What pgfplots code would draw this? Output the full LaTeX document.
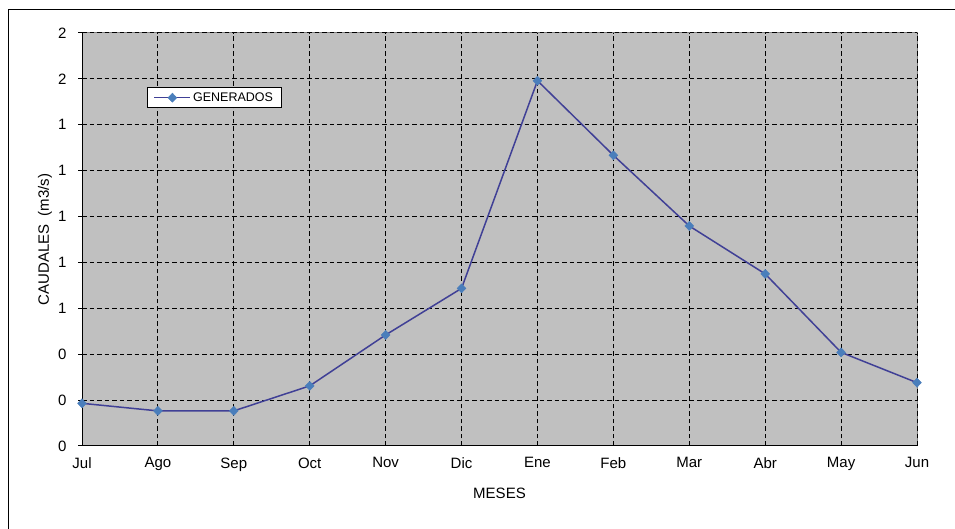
\documentclass[border=0pt]{standalone}
\usepackage{fontspec}
\setmainfont{Liberation Sans}
\usepackage{pgfplots}
\pgfplotsset{compat=1.18}

\definecolor{plotgray}{RGB}{192,192,192}
\definecolor{linenavy}{RGB}{64,64,150}
\definecolor{markblue}{RGB}{74,126,187}

\begin{document}
\begin{tikzpicture}[x=1pt,y=1pt]
  \useasboundingbox (0,0) rectangle (955,529);
  % outer chart frame
  \draw[black, line width=1pt] (8,-10) -- (8,519) -- (970,519);
  \begin{axis}[
    at={(82pt,83pt)}, anchor=south west,
    scale only axis,
    width=835pt, height=413pt,
    xmin=0, xmax=11, ymin=0, ymax=1.8,
    xtick={0,...,11},
    xticklabels={Jul,Ago,Sep,Oct,Nov,Dic,Ene,Feb,Mar,Abr,May,Jun},
    ytick={0,0.2,0.4,0.6,0.8,1.0,1.2,1.4,1.6,1.8},
    yticklabels={0,0,0,1,1,1,1,1,2,2},
    axis x line*=bottom, axis y line*=left,
    axis line style={black, line width=1pt, -},
    axis background/.style={fill=plotgray, draw=gray, line width=1pt},
    grid=major,
    major grid style={black, line width=1pt, dash pattern=on 4.5pt off 3pt},
    xtick style={draw=none},
    ytick style={black, line width=1pt},
    tick align=outside, major tick length=4pt,
    ytick pos=left,
    tick label style={font=\fontsize{15}{17}\selectfont},
    /pgf/number format/assume math mode=true,
    xticklabel style={yshift=-4pt},
    yticklabel style={xshift=-8pt},
    xlabel={MESES},
    ylabel={CAUDALES\ \ (m3/s)},
    label style={font=\fontsize{15}{17}\selectfont},
    xlabel style={at={(axis description cs:0.5,-0.114)}, anchor=center},
    ylabel style={at={(axis description cs:-0.0443,0.5)}, anchor=center, rotate=0},
    legend style={at={(axis description cs:0.078,0.869)}, anchor=north west,
      draw=black, fill=white, line width=1pt, inner xsep=6pt, inner ysep=3pt,
      font=\fontsize{12.5}{14}\selectfont},
    legend cell align=left,
    legend image code/.code={
      \draw[mark repeat=2, mark phase=2, #1]
        plot coordinates {(0pt,0pt) (18pt,0pt) (36pt,0pt)};
    },
  ]
    \addplot[color=linenavy, line width=1.5pt, mark=diamond*,
      mark size=4.5pt,
      mark options={fill=markblue, draw=markblue, xscale=1.3, line width=0.5pt}]
      coordinates {
        (0,0.186) (1,0.153) (2,0.153) (3,0.262) (4,0.484) (5,0.687)
        (6,1.592) (7,1.267) (8,0.959) (9,0.750) (10,0.408) (11,0.276)
      };
    \addlegendentry{GENERADOS}
  \end{axis}
\end{tikzpicture}
\end{document}
